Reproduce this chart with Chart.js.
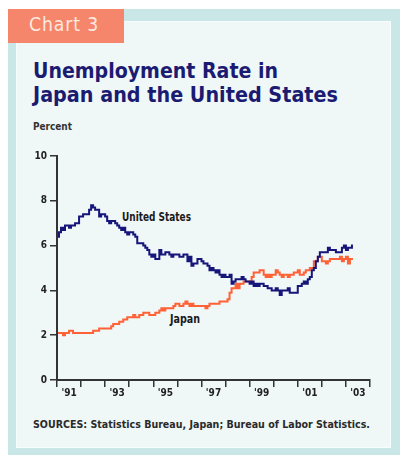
<!DOCTYPE html>
<html>
<head>
<meta charset="utf-8">
<script src="https://cdn.jsdelivr.net/npm/chart.js@4.4.0/dist/chart.umd.min.js"></script>
<style>
  html, body { margin: 0; padding: 0; background: #ffffff; }
  #page { position: relative; width: 401px; height: 455px; overflow: hidden; }
  #frame { position: absolute; left: 8px; top: 9px; width: 392px; height: 446px; background: #c9e7e7; }
  #panel { position: absolute; left: 16px; top: 21px; width: 375px; height: 427px; background: #eff7f7; box-shadow: inset 0 0 0 1px #f8fcfc; }
  #tab { position: absolute; left: 8px; top: 9px; width: 116px; height: 34px; background: #f5866c; }
  .txt { position: absolute; white-space: nowrap; transform-origin: 0 0; }
  #tabText { left: 29px; top: 12px; font: 20px "DejaVu Sans"; color: #fde9df; letter-spacing: 1px; }
  .title { left: 33px; font: bold 22px "DejaVu Sans"; color: #1b1b72; }
  #t1 { top: 58px; }
  #t2 { top: 82px; }
  #percent { left: 33px; top: 121px; font: bold 10px "DejaVu Sans Condensed"; color: #333; }
  .lbl { font: bold 12px "DejaVu Sans Condensed"; color: #1a1a1a; }
  #usLbl { left: 122px; top: 210px; }
  #jpLbl { left: 170px; top: 312px; }
  #source { left: 33px; top: 418px; font: bold 11px "DejaVu Sans Condensed"; color: #2a2a2a; }
  canvas { position: absolute; left: 0; top: 0; }
</style>
</head>
<body>
<div id="page">
  <div id="frame"></div>
  <div id="panel"></div>
  <div id="tab"></div>
  <div class="txt" id="tabText" data-w="70">Chart 3</div>
  <div class="txt title" id="t1" data-w="245">Unemployment Rate in</div>
  <div class="txt title" id="t2" data-w="305">Japan and the United States</div>
  <div class="txt" id="percent" data-w="39">Percent</div>
  <div class="txt lbl" id="usLbl" data-w="69">United States</div>
  <div class="txt lbl" id="jpLbl" data-w="30">Japan</div>
  <div class="txt" id="source" data-w="337">SOURCES: Statistics Bureau, Japan; Bureau of Labor Statistics.</div>
  <canvas id="chart" width="401" height="455"></canvas>
</div>
<script>
// monthly unemployment rate, Jan 1991 - Apr 2003 (percent)
const startYear = 1991;
const usRate = [
  6.4, 6.6, 6.8, 6.7, 6.9, 6.9, 6.8, 6.9, 6.9, 7.0, 7.0, 7.3,
  7.3, 7.4, 7.4, 7.4, 7.6, 7.8, 7.7, 7.6, 7.6, 7.3, 7.4, 7.4,
  7.3, 7.1, 7.0, 7.1, 7.1, 7.0, 6.9, 6.8, 6.7, 6.8, 6.6, 6.5,
  6.6, 6.6, 6.5, 6.4, 6.1, 6.1, 6.1, 6.0, 5.9, 5.8, 5.6, 5.5,
  5.6, 5.4, 5.4, 5.8, 5.6, 5.6, 5.7, 5.7, 5.6, 5.5, 5.6, 5.6,
  5.6, 5.5, 5.5, 5.6, 5.6, 5.3, 5.5, 5.1, 5.2, 5.2, 5.4, 5.4,
  5.3, 5.2, 5.2, 5.1, 4.9, 5.0, 4.9, 4.8, 4.9, 4.7, 4.6, 4.7,
  4.6, 4.6, 4.7, 4.3, 4.4, 4.5, 4.5, 4.5, 4.6, 4.5, 4.4, 4.4,
  4.3, 4.4, 4.2, 4.3, 4.2, 4.3, 4.3, 4.2, 4.2, 4.1, 4.1, 4.0,
  4.0, 4.1, 4.0, 3.8, 4.0, 4.0, 4.0, 4.1, 3.9, 3.9, 3.9, 3.9,
  4.2, 4.2, 4.3, 4.4, 4.3, 4.5, 4.6, 4.9, 5.0, 5.3, 5.5, 5.7,
  5.7, 5.7, 5.7, 5.9, 5.8, 5.8, 5.8, 5.7, 5.7, 5.7, 5.9, 6.0,
  5.8, 5.9, 5.9, 6.0
];
const japanRate = [
  2.1, 2.1, 2.1, 2.0, 2.1, 2.1, 2.2, 2.2, 2.1, 2.1, 2.1, 2.1,
  2.1, 2.1, 2.1, 2.1, 2.1, 2.1, 2.2, 2.2, 2.2, 2.3, 2.3, 2.3,
  2.3, 2.3, 2.3, 2.4, 2.5, 2.5, 2.5, 2.6, 2.6, 2.7, 2.7, 2.8,
  2.8, 2.8, 2.9, 2.8, 2.8, 2.9, 2.9, 3.0, 3.0, 3.0, 2.9, 2.9,
  2.9, 3.0, 3.0, 3.1, 3.2, 3.1, 3.2, 3.2, 3.2, 3.2, 3.3, 3.4,
  3.4, 3.3, 3.3, 3.4, 3.5, 3.4, 3.3, 3.4, 3.3, 3.3, 3.3, 3.3,
  3.3, 3.3, 3.2, 3.3, 3.4, 3.4, 3.4, 3.4, 3.4, 3.5, 3.5, 3.5,
  3.5, 3.6, 3.9, 4.1, 4.1, 4.3, 4.1, 4.3, 4.3, 4.4, 4.4, 4.4,
  4.4, 4.6, 4.8, 4.8, 4.8, 4.9, 4.9, 4.7, 4.6, 4.7, 4.6, 4.7,
  4.7, 4.9, 4.8, 4.7, 4.6, 4.7, 4.7, 4.6, 4.7, 4.7, 4.8, 4.8,
  4.9, 4.7, 4.7, 4.8, 4.9, 4.9, 5.0, 5.0, 5.3, 5.3, 5.5, 5.5,
  5.3, 5.3, 5.2, 5.3, 5.4, 5.4, 5.4, 5.4, 5.4, 5.5, 5.3, 5.4,
  5.5, 5.2, 5.4, 5.4
];
const yearLabels = ["'91", "'93", "'95", "'97", "'99", "'01", "'03"];
const yTicks = [0, 2, 4, 6, 8, 10];

// squeeze the condensed-looking texts to the widths seen in the picture
document.querySelectorAll('.txt').forEach((el) => {
    const w = el.getBoundingClientRect().width;
    el.style.transform = 'scaleX(' + (Number(el.dataset.w) / w) + ')';
});

function toPoints(arr) {
    return arr.map((v, i) => ({ x: startYear + (i + 0.5) / 12, y: v }));
}

const lastYear = startYear + 13;
const labelAt = {};
yearLabels.forEach((lbl, i) => { labelAt[startYear + i * 2 + 0.5] = lbl; });

const tickFont = { family: 'DejaVu Sans Condensed', size: 10, weight: 'bold' };

new Chart(document.getElementById('chart'), {
    type: 'line',
    data: {
        datasets: [
            { label: 'United States', data: toPoints(usRate), borderColor: '#15157a', borderWidth: 2, pointRadius: 0, stepped: 'middle' },
            { label: 'Japan', data: toPoints(japanRate), borderColor: '#ff6236', borderWidth: 2, pointRadius: 0, stepped: 'middle' }
        ]
    },
    options: {
        responsive: false,
        animation: false,
        layout: { padding: { left: 0, top: 156, right: 31, bottom: 55 } },
        plugins: { legend: { display: false }, tooltip: { enabled: false } },
        scales: {
            x: {
                type: 'linear',
                min: startYear,
                max: lastYear,
                afterBuildTicks: (axis) => {
                    const t = [];
                    for (let y = startYear; y <= lastYear; y++) {
                        t.push({ value: y });
                        if (labelAt[y + 0.5]) t.push({ value: y + 0.5 });
                    }
                    axis.ticks = t;
                },
                afterFit: (axis) => { axis.height = 20; },
                grid: {
                    drawOnChartArea: false,
                    tickLength: 7,
                    lineWidth: 1.5,
                    color: (ctx) => (ctx.tick && Number.isInteger(ctx.tick.value) ? '#333' : 'rgba(0,0,0,0)')
                },
                border: { color: '#333', width: 2 },
                ticks: {
                    autoSkip: false,
                    maxRotation: 0,
                    padding: 0,
                    color: '#222',
                    font: tickFont,
                    callback: (v) => labelAt[v] || ''
                }
            },
            y: {
                min: 0,
                max: 10,
                afterBuildTicks: (axis) => { axis.ticks = yTicks.map((v) => ({ value: v })); },
                afterFit: (axis) => { axis.width = 57; },
                grid: { drawOnChartArea: false, tickLength: 7, lineWidth: 1.5, color: '#333' },
                border: { color: '#333', width: 2 },
                ticks: { padding: 3, color: '#222', font: tickFont }
            }
        }
    }
});
</script>
</body>
</html>
